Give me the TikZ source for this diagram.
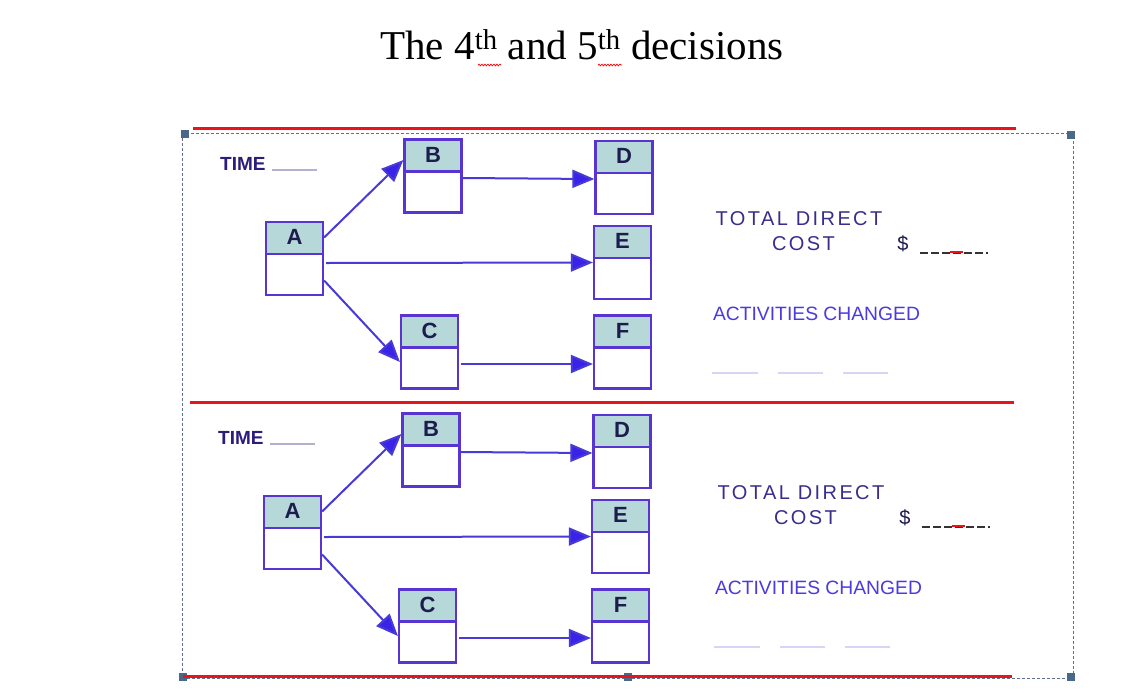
\documentclass[tikz,border=0pt]{standalone}
\usepackage{fontspec}
\setmainfont{Liberation Serif}
\setsansfont{Liberation Sans}
\newfontfamily\trackedsans[LetterSpace=12]{Liberation Sans}
\usetikzlibrary{arrows.meta,decorations.pathmorphing}
\definecolor{boxcol}{RGB}{88,52,208}
\definecolor{linecol}{RGB}{72,58,214}
\definecolor{tipcol}{RGB}{58,34,232}
\definecolor{headfill}{RGB}{182,216,216}
\definecolor{lettercol}{RGB}{28,28,78}
\definecolor{timecol}{RGB}{44,28,124}
\definecolor{navytext}{RGB}{58,46,140}
\definecolor{actcol}{RGB}{74,58,224}
\definecolor{redline}{RGB}{232,20,26}
\definecolor{framecol}{RGB}{96,112,140}
\definecolor{handlecol}{RGB}{74,104,136}
\begin{document}
\begin{tikzpicture}[x=1pt,y=-1pt,
  box/.style={draw=boxcol, line width=2.2pt, minimum width=57pt, minimum height=73pt, inner sep=0pt,
    path picture={
      \fill[headfill] (path picture bounding box.north west) rectangle ([yshift=-32pt]path picture bounding box.north east);
      \draw[boxcol, line width=2.2pt] ([yshift=-32pt]path picture bounding box.north west) -- ([yshift=-32pt]path picture bounding box.north east);
    }},
  letter/.style={font=\sffamily\bfseries\fontsize{22}{22}\selectfont, text=lettercol, inner sep=0pt, anchor=base},
  conn/.style={draw=linecol, line width=2pt, -{Triangle[length=22pt,width=18pt,fill=tipcol]}},
  timelabel/.style={font=\sffamily\bfseries\fontsize{19}{19}\selectfont, text=timecol, inner sep=0pt, anchor=base west},
  blank/.style={draw=timecol!35, line width=1.5pt},
  tdc/.style={font=\trackedsans\fontsize{20}{20}\selectfont, text=navytext, inner sep=0pt, anchor=base},
  actlabel/.style={font=\sffamily\fontsize{19.3}{19.3}\selectfont, text=actcol, inner sep=0pt, anchor=base},
  faint/.style={draw=actcol!22, line width=1.2pt},
  redrule/.style={draw=redline, line width=3pt},
  frame/.style={draw=framecol, line width=0.8pt, dash pattern=on 3pt off 2pt},
  handle/.style={fill=handlecol},
  wavy/.style={draw=red, line width=0.7pt, decorate, decoration={snake, amplitude=0.9pt, segment length=3pt}}
]
\useasboundingbox (0,0) rectangle (1133,694);
\fill[white] (0,0) rectangle (1133,694);

% title
\node[anchor=base, inner sep=0pt, font=\fontsize{41}{45}\selectfont] (title) at (582,59)
  {The 4\textsuperscript{th} and 5\textsuperscript{th} decisions};
\draw[wavy] (478,65) -- (501,65);
\draw[wavy] (598,65) -- (622,65);

% selection frame
\draw[frame] (182,133) rectangle (1073,678);
\foreach \hx/\hy in {185/134, 1071/135, 183/677, 628/677, 1071/677}
  \fill[handle] (\hx-4,\hy-4) rectangle (\hx+4,\hy+4);

% red rules
\draw[redrule] (193,128) -- (1016,128);
\draw[redrule] (190,402) -- (1014,402);
\draw[redrule] (183,676) -- (1012,676);

\foreach \p/\dx/\dy/\tx in {u/0/0/0, l/-2/274/2}{
\begin{scope}[shift={(\dx,\dy)}, name prefix=\p-]
  \node[box] (A) at (294.5,258.5) {};
  \node[box] (B) at (433,176) {};
  \node[box] (D) at (624,177.5) {};
  \node[box] (E) at (622.5,262.5) {};
  \node[box] (C) at (429.5,352) {};
  \node[box] (F) at (622.5,352) {};
  \foreach \n in {A,B,C,D,E,F}
    \node[letter] (\n-t) at ([yshift=-24pt]\n.north) {\n};
  \draw[conn] ([yshift=21pt]A.east) -- ([yshift=16pt]B.west);
  \draw[conn] ([yshift=-2pt]B.east) -- ([yshift=-1.5pt]D.west);
  \draw[conn] ([xshift=2pt,yshift=-4.5pt]A.east) -- (E.west);
  \draw[conn] ([yshift=-22pt]A.east) -- ([yshift=-10pt]C.west);
  \draw[conn] ([xshift=2pt,yshift=-12pt]C.east) -- ([yshift=-12pt]F.west);
  \node[timelabel] (time) at (220,170) {TIME};
  \draw[blank] (272,170) -- (317,170);
\end{scope}
\begin{scope}[shift={(\tx,\dy)}, name prefix=\p-]
  \node[tdc] (td) at (799,225) {TOTAL DIRECT};
  \node[tdc] (cost) at (803.5,250) {COST};
  \node[tdc, text=lettercol] (dollar) at (903,250) {\$};
  \draw[draw=black!80, line width=1.6pt, dash pattern=on 8pt off 3pt] (920,253) -- (988,253);
  \draw[draw=redline, line width=2pt] (950,252) -- (963,252);
  \node[actlabel] (act) at (816.5,320) {ACTIVITIES CHANGED};
  \draw[faint] (712,373) -- (758,373);
  \draw[faint] (778,373) -- (823,373);
  \draw[faint] (843,373) -- (888,373);
\end{scope}
}
\end{tikzpicture}
\end{document}
